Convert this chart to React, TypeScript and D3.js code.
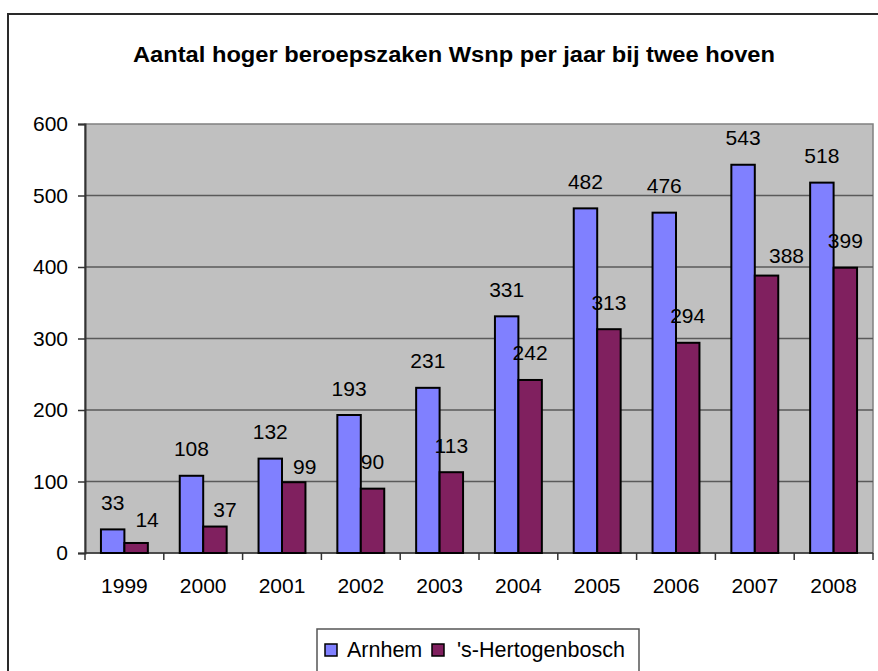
import React, { useEffect, useRef } from 'react';
import * as d3 from 'd3';

const years = ['1999', '2000', '2001', '2002', '2003', '2004', '2005', '2006', '2007', '2008'];
const seriesNames = ['Arnhem', "'s-Hertogenbosch"];
const arnhem = [33, 108, 132, 193, 231, 331, 482, 476, 543, 518];
const denBosch = [14, 37, 99, 90, 113, 242, 313, 294, 388, 399];
const yTicks = [0, 100, 200, 300, 400, 500, 600];
const colors = ['#8080FF', '#80205F'];

// Excel moved a few labels sideways so they don't hit the neighbouring bar
const labelNudge: Record<string, [number, number]> = {
  "'s-Hertogenbosch|1999": [11, 4],
  "'s-Hertogenbosch|2000": [10, 10],
  "'s-Hertogenbosch|2001": [11, 11],
  "'s-Hertogenbosch|2007": [20, 7],
};

const W = 878;
const H = 671;
const FONT = '"Liberation Sans", Arial, sans-serif';
const FS = 21;

function draw(el: SVGSVGElement) {
  const svg = d3.select(el);
  svg.selectAll('*').remove();

  const margin = { top: 124, left: 85, right: 5, bottom: 118 };
  const plotBottom = H - margin.bottom;

  // outer chart frame (runs off the picture on the right and bottom)
  svg
    .append('rect')
    .attr('x', 8)
    .attr('y', 14)
    .attr('width', 900)
    .attr('height', 700)
    .attr('fill', '#fff')
    .attr('stroke', '#2a2a2a')
    .attr('stroke-width', 2);

  svg
    .append('text')
    .attr('x', 454)
    .attr('y', 62)
    .attr('text-anchor', 'middle')
    .attr('font-family', FONT)
    .attr('font-weight', 'bold')
    .attr('font-size', 22)
    .attr('textLength', 642)
    .attr('lengthAdjust', 'spacingAndGlyphs')
    .text('Aantal hoger beroepszaken Wsnp per jaar bij twee hoven');

  const x0 = d3.scaleBand().domain(years).range([margin.left, W - margin.right]).padding(0);
  const x1 = d3.scaleBand().domain(seriesNames).range([0, x0.bandwidth()]).paddingInner(0).paddingOuter(0.68);
  const y = d3.scaleLinear().domain([0, 600]).range([plotBottom, margin.top]);

  // plot area
  svg
    .append('rect')
    .attr('x', margin.left)
    .attr('y', margin.top)
    .attr('width', W - margin.right - margin.left)
    .attr('height', plotBottom - margin.top)
    .attr('fill', '#C0C0C0')
    .attr('stroke', '#808080')
    .attr('stroke-width', 1.5);

  svg
    .append('g')
    .selectAll('line')
    .data(yTicks.filter((t) => t > 0 && t < 600))
    .join('line')
    .attr('x1', margin.left)
    .attr('x2', W - margin.right)
    .attr('y1', (d) => y(d))
    .attr('y2', (d) => y(d))
    .attr('stroke', '#5a5a5a')
    .attr('stroke-width', 1.5);

  // y axis
  const yAxis = svg
    .append('g')
    .attr('transform', 'translate(' + margin.left + ',0)')
    .call(d3.axisLeft(y).tickValues(yTicks).tickSize(7).tickPadding(10));
  yAxis.select('.domain').attr('stroke', '#333').attr('stroke-width', 2);
  yAxis.selectAll('line').attr('stroke', '#333').attr('stroke-width', 1.5);
  yAxis.selectAll('text').attr('font-family', FONT).attr('font-size', FS).attr('fill', '#000');

  // x axis: ticks between categories
  const xAxis = svg.append('g').attr('transform', 'translate(0,' + plotBottom + ')');
  xAxis
    .append('line')
    .attr('x1', margin.left)
    .attr('x2', W - margin.right)
    .attr('stroke', '#333')
    .attr('stroke-width', 1.5);
  const bounds = years.map((d) => x0(d) as number).concat([W - margin.right]);
  xAxis
    .selectAll('line.tick')
    .data(bounds)
    .join('line')
    .attr('class', 'tick')
    .attr('x1', (d) => d)
    .attr('x2', (d) => d)
    .attr('y1', 0)
    .attr('y2', 7)
    .attr('stroke', '#333')
    .attr('stroke-width', 1.5);
  xAxis
    .selectAll('text')
    .data(years)
    .join('text')
    .attr('x', (d) => (x0(d) as number) + x0.bandwidth() / 2)
    .attr('y', 40)
    .attr('text-anchor', 'middle')
    .attr('font-family', FONT)
    .attr('font-size', FS)
    .text((d) => d);

  // bars
  const values = [arnhem, denBosch];
  const rows = years.flatMap((yr, i) =>
    seriesNames.map((s, k) => ({ year: yr, series: s, value: values[k][i], k }))
  );

  const g = svg.append('g');
  g.selectAll('rect')
    .data(rows)
    .join('rect')
    .attr('x', (d) => (x0(d.year) as number) + (x1(d.series) as number))
    .attr('y', (d) => y(d.value))
    .attr('width', x1.bandwidth())
    .attr('height', (d) => y(0) - y(d.value))
    .attr('fill', (d) => colors[d.k])
    .attr('stroke', '#000')
    .attr('stroke-width', 2);

  g.selectAll('text')
    .data(rows)
    .join('text')
    .attr('x', (d) => {
      const n = labelNudge[d.series + '|' + d.year];
      return (x0(d.year) as number) + (x1(d.series) as number) + x1.bandwidth() / 2 + (n ? n[0] : 0);
    })
    .attr('y', (d) => {
      const n = labelNudge[d.series + '|' + d.year];
      return y(d.value) - 19.5 + (n ? n[1] : 0);
    })
    .attr('text-anchor', 'middle')
    .attr('font-family', FONT)
    .attr('font-size', FS)
    .text((d) => String(d.value));

  // legend
  const lg = svg.append('g');
  lg.append('rect')
    .attr('x', 317)
    .attr('y', 629)
    .attr('width', 322)
    .attr('height', 60)
    .attr('fill', '#fff')
    .attr('stroke', '#555')
    .attr('stroke-width', 1.5);
  const items = [
    { name: seriesNames[0], sx: 325, tx: 347 },
    { name: seriesNames[1], sx: 432, tx: 457 },
  ];
  items.forEach((it, k) => {
    lg.append('rect')
      .attr('x', it.sx)
      .attr('y', 644)
      .attr('width', 12)
      .attr('height', 12)
      .attr('fill', colors[k])
      .attr('stroke', '#000')
      .attr('stroke-width', 1.5);
    lg.append('text')
      .attr('x', it.tx)
      .attr('y', 657)
      .attr('font-family', FONT)
      .attr('font-size', 21.5)
      .text(it.name);
  });
}

export default function App() {
  const ref = useRef<SVGSVGElement>(null);

  useEffect(() => {
    if (ref.current) draw(ref.current);
  }, []);

  return (
    <div style={{ position: 'absolute', left: 0, top: 0, width: W, height: H, overflow: 'hidden', background: '#fff' }}>
      <svg ref={ref} width={W} height={H} style={{ display: 'block' }} />
    </div>
  );
}
